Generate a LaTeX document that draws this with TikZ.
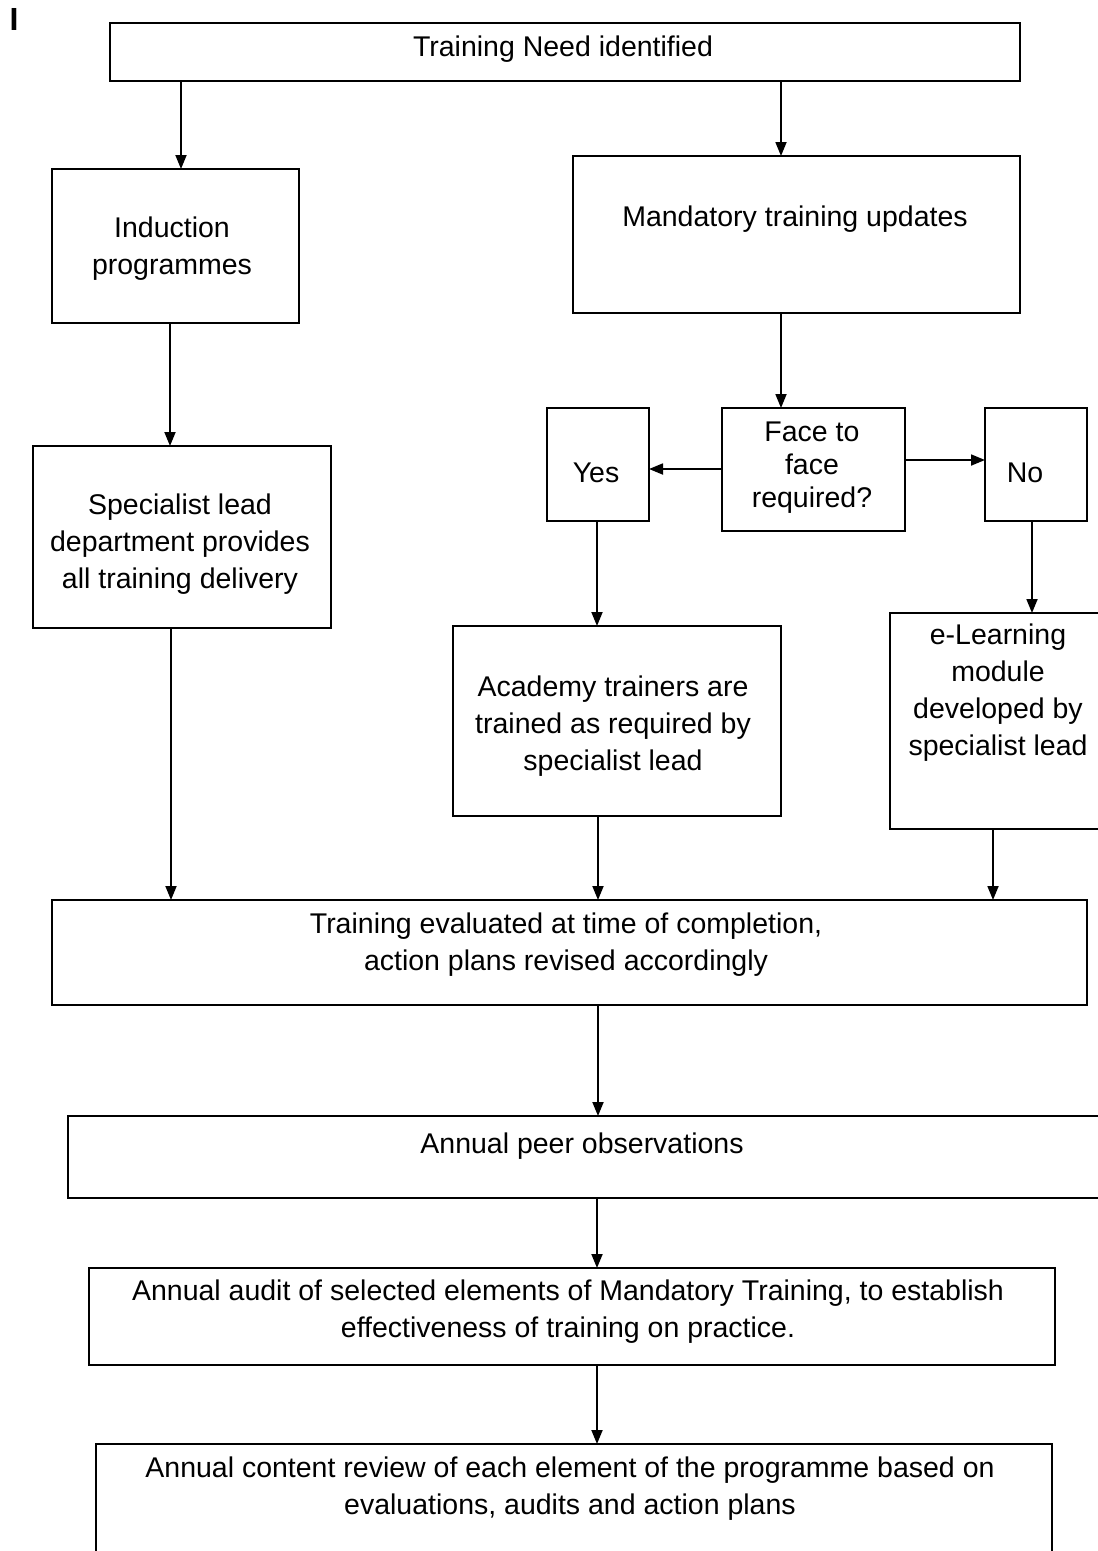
\documentclass[tikz,border=0pt]{standalone}
\usepackage{fontspec}
\setmainfont{Liberation Sans}
\usetikzlibrary{arrows.meta,calc}
\tikzset{
  box/.style={draw, line width=2pt, inner sep=0pt, outer sep=0pt},
  lbl/.style={align=center, inner sep=0pt, font=\fontsize{28.5}{37}\selectfont},
  lblb/.style={align=center, inner sep=0pt, font=\fontsize{28.5}{33}\selectfont},
  arr/.style={line width=1.8pt, -{Triangle[length=14pt,width=11pt]}}
}
\newcommand{\mybox}[5]{%
  \node[box, minimum width={(#4-#2)*1pt}, minimum height={(#5-#3)*1pt}] (#1) at ({(#2+#4)/2},{(#3+#5)/2}) {};}
\begin{document}
\begin{tikzpicture}[x=1pt,y=-1pt]
\useasboundingbox (0,0) rectangle (1098,1551);
% marker
\node[inner sep=0pt, font=\bfseries\fontsize{32}{32}\selectfont] (mark) at (14,19) {I};
% boxes
\mybox{top}{110}{23}{1020}{81}
\mybox{ind}{52}{169}{299}{323}
\mybox{mand}{573}{156}{1020}{313}
\mybox{face}{722}{408}{905}{531}
\mybox{yes}{547}{408}{649}{521}
\mybox{no}{985}{408}{1087}{521}
\mybox{spec}{33}{446}{331}{628}
\mybox{acad}{453}{626}{781}{816}
\mybox{elearn}{890}{613}{1110}{829}
\mybox{eval}{52}{900}{1087}{1005}
\mybox{peer}{68}{1116}{1110}{1198}
\mybox{audit}{89}{1268}{1055}{1365}
\mybox{review}{96}{1444}{1052}{1570}
% texts
\node[lbl] (ttop) at (563,49) {Training Need identified};
\node[lbl] (tind) at (172,249) {Induction\\programmes};
\node[lbl] (tmand) at (795,219) {Mandatory training updates};
\node[lblb] (tface) at (812,468) {Face to\\face\\required?};
\node[lbl] (tyes) at (596,473) {Yes};
\node[lbl] (tno) at (1025,473) {No};
\node[lbl] (tspec) at (180,544) {Specialist lead\\department provides\\all training delivery};
\node[lbl] (tacad) at (613,726) {Academy trainers are\\trained as required by\\specialist lead};
\node[lbl] (telearn) at (998,693) {e-Learning\\module\\developed by\\specialist lead};
\node[lbl] (teval) at (566,945) {Training evaluated at time of completion,\\action plans revised accordingly};
\node[lbl] (tpeer) at (582,1146) {Annual peer observations};
\node[lbl] (taudit) at (568,1312) {Annual audit of selected elements of Mandatory Training, to establish\\effectiveness of training on practice.};
\node[lbl] (treview) at (570,1489) {Annual content review of each element of the programme based on\\evaluations, audits and action plans};
% connectors
\draw[arr] (top.south -| 181,0) -- (ind.north -| 181,0);
\draw[arr] (top.south -| 781,0) -- (mand.north -| 781,0);
\draw[arr] (ind.south -| 170,0) -- (spec.north -| 170,0);
\draw[arr] (mand.south -| 781,0) -- (face.north -| 781,0);
\draw[arr] (face.west |- 0,469) -- (yes.east |- 0,469);
\draw[arr] (face.east |- 0,460) -- (no.west |- 0,460);
\draw[arr] (yes.south -| 597,0) -- (acad.north -| 597,0);
\draw[arr] (no.south -| 1032,0) -- (elearn.north -| 1032,0);
\draw[arr] (spec.south -| 171,0) -- (eval.north -| 171,0);
\draw[arr] (acad.south -| 598,0) -- (eval.north -| 598,0);
\draw[arr] (elearn.south -| 993,0) -- (eval.north -| 993,0);
\draw[arr] (eval.south -| 598,0) -- (peer.north -| 598,0);
\draw[arr] (peer.south -| 597,0) -- (audit.north -| 597,0);
\draw[arr] (audit.south -| 597,0) -- (review.north -| 597,0);
\end{tikzpicture}
\end{document}
